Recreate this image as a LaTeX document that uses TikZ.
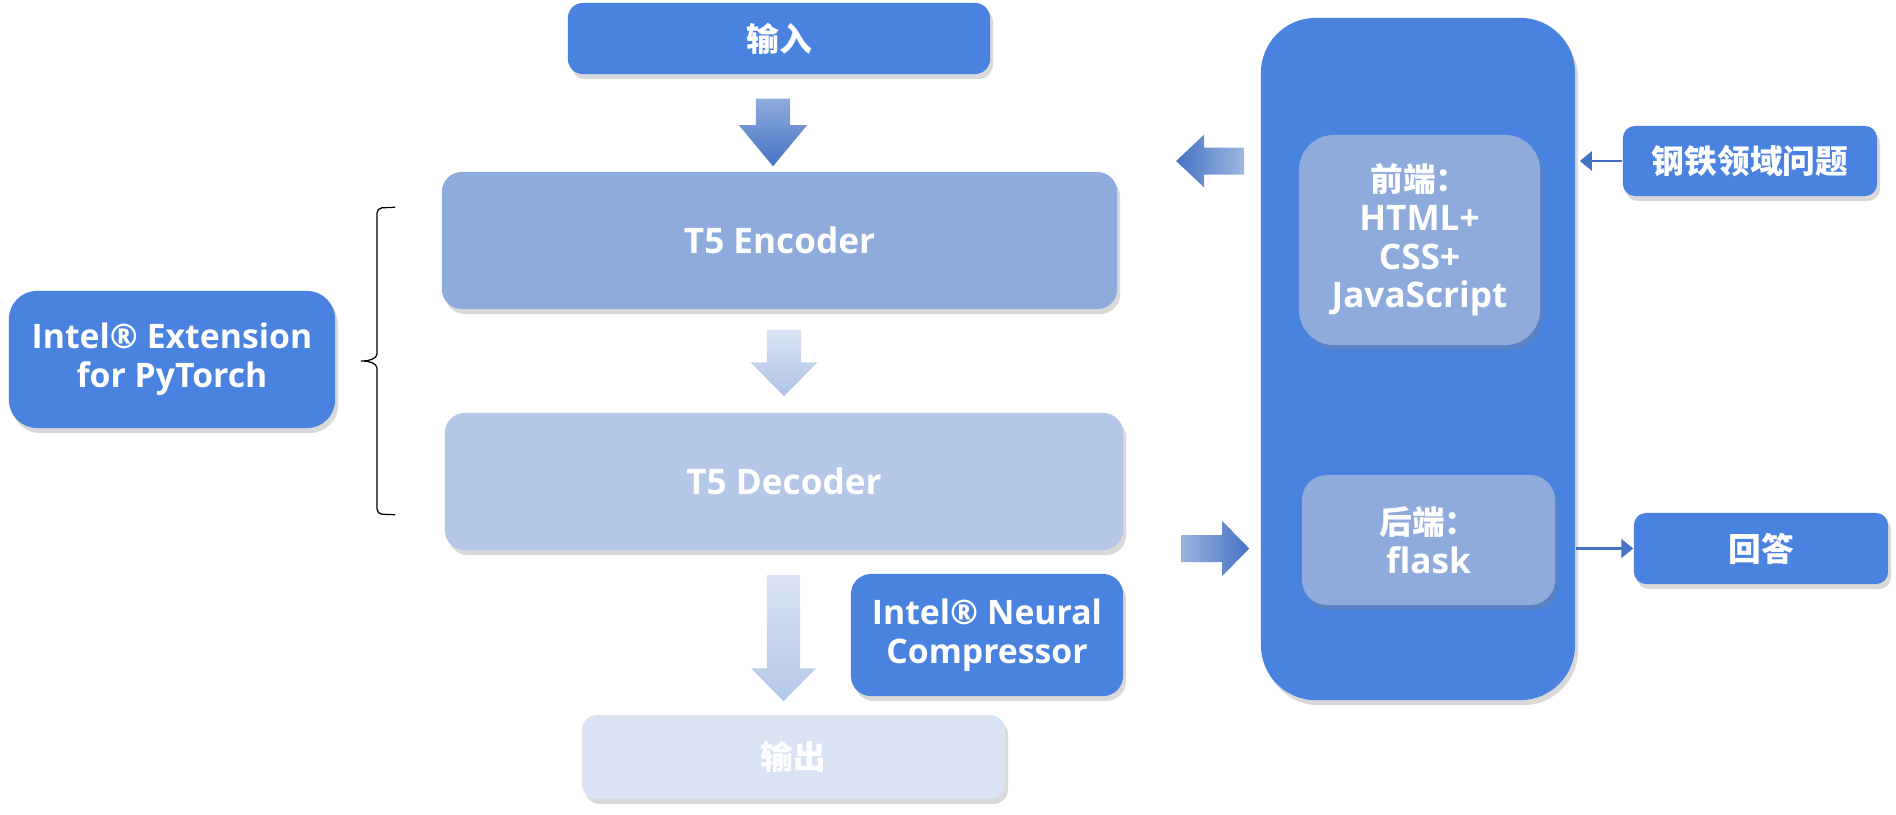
\documentclass[tikz,border=0pt]{standalone}
\usepackage{fontspec}
\setmainfont{Open Sans}
\newfontfamily\cjk{Noto Sans CJK SC}[Scale=0.93]
\usetikzlibrary{calc,shadows,arrows.meta}

\definecolor{mainblue}{RGB}{74,130,224}
\definecolor{midblue}{RGB}{143,171,220}
\definecolor{paleblue}{RGB}{180,199,231}
\definecolor{faintblue}{RGB}{218,227,243}
\definecolor{deepblue}{RGB}{68,114,196}

\tikzset{
  box/.style={rounded corners=0.2cm, text=white, align=center, inner sep=0pt,
    font=\fontsize{10}{11}\selectfont\bfseries,
    drop shadow={shadow xshift=0.03cm, shadow yshift=-0.05cm, opacity=0.3}},
  link/.style={deepblue, line width=0.6pt, -{Triangle[length=3.4pt,width=5.4pt]}},
}

% fat shaded arrow: shading, tail, tip, head length, shaft half width, head half width
\newcommand\blockarrow[6]{%
  \coordinate (ba) at ($(#3)!#4!(#2)$);
  \shade[#1] ($(#2)!#5!90:(#3)$) -- ($(ba)!#5!90:(#3)$) -- ($(ba)!#6!90:(#3)$) -- (#3)
    -- ($(ba)!#6!-90:(#3)$) -- ($(ba)!#5!-90:(#3)$) -- ($(#2)!#5!-90:(#3)$) -- cycle;
}

\begin{document}
\begin{tikzpicture}[x=0.01cm, y=-0.01cm]
  \useasboundingbox (0,0) rectangle (1896,814);

  % model pipeline
  \node[box, fill=mainblue, rounded corners=0.15cm, minimum width=4.22cm, minimum height=0.71cm] (in) at (779,38.5) {\cjk 输入};
  \node[box, fill=midblue, minimum width=6.75cm, minimum height=1.37cm] (enc) at (779.5,240.5) {T5 Encoder};
  \node[box, fill=paleblue, minimum width=6.78cm, minimum height=1.37cm] (dec) at (784,481.5) {T5 Decoder};
  \node[box, fill=faintblue, rounded corners=0.15cm, minimum width=4.23cm, minimum height=0.84cm] (out) at (793.5,757) {\cjk 输出};
  \node[box, fill=mainblue, rounded corners=0.28cm, minimum width=3.26cm, minimum height=1.37cm,
    font=\fontsize{9.6}{11}\selectfont\bfseries] (ipex) at (172,359.5) {Intel® Extension\\for PyTorch};
  \node[box, fill=mainblue, minimum width=2.72cm, minimum height=1.22cm,
    font=\fontsize{9.6}{11}\selectfont\bfseries] (inc) at (987,635) {Intel® Neural\\Compressor};

  \coordinate (a1tail) at ($(in.south)+(-6,24)$);
  \coordinate (a1tip) at ($(enc.north)+(-6.5,-5)$);
  \blockarrow{top color=midblue, bottom color=deepblue}{a1tail}{a1tip}{0.41cm}{0.17cm}{0.34cm}
  \coordinate (a2tail) at ($(enc.south)+(4.5,20)$);
  \coordinate (a2tip) at ($(dec.north)+(0,-16)$);
  \blockarrow{top color=faintblue, bottom color=paleblue!95!deepblue}{a2tail}{a2tip}{0.34cm}{0.17cm}{0.335cm}
  \coordinate (a3tail) at ($(dec.south)+(-0.5,24)$);
  \coordinate (a3tip) at ($(out.north)+(-10,-13)$);
  \blockarrow{top color=faintblue, bottom color=paleblue}{a3tail}{a3tip}{0.33cm}{0.165cm}{0.325cm}

  % brace round the two T5 blocks
  \coordinate (bt) at ($(enc.north west)+(-46,36)$);
  \coordinate (bb) at ($(dec.south west)+(-49,-36)$);
  \coordinate (btip) at (358,361);
  \draw[line width=0.35pt, rounded corners=0.05cm] (bt) -- (377,208) -- (377,349)
    .. controls (377,359) and (368,361) .. (btip)
    .. controls (368,361) and (377,363) .. (377,373) -- (377,514) -- (bb);

  % web server
  \node[box, fill=mainblue, rounded corners=0.55cm, minimum width=3.14cm, minimum height=6.82cm] (server) at (1418,359) {};
  \node[box, fill=midblue, rounded corners=0.35cm, minimum width=2.41cm, minimum height=2.10cm] (front) at (1419.5,240) {{\cjk 前端：}\\HTML+\\CSS+\\JavaScript};
  \node[box, fill=midblue, rounded corners=0.25cm, minimum width=2.53cm, minimum height=1.30cm] (back) at (1428.5,540) {{\cjk 后端：}\\flask};
  \node[box, fill=mainblue, rounded corners=0.12cm, minimum width=2.54cm, minimum height=0.70cm] (q) at (1750,161) {\cjk 钢铁领域问题};
  \node[box, fill=mainblue, rounded corners=0.12cm, minimum width=2.54cm, minimum height=0.71cm] (ans) at (1761,548.5) {\cjk 回答};

  \draw[link] (q.west) -- ($(server.east |- q.west)+(4,0)$);
  \draw[link] (server.east |- ans.west) -- (ans.west);

  \coordinate (a4tail) at ($(server.west |- q.west)+(-16,0)$);
  \coordinate (a4tip) at ($(server.west |- q.west)+(-84,0)$);
  \blockarrow{left color=deepblue, right color=midblue!85!white}{a4tail}{a4tip}{0.28cm}{0.135cm}{0.265cm}
  \coordinate (a5tail) at ($(server.west |- ans.west)+(-79,0)$);
  \coordinate (a5tip) at ($(server.west |- ans.west)+(-11,0)$);
  \blockarrow{left color=midblue!90!white, right color=deepblue}{a5tail}{a5tip}{0.27cm}{0.135cm}{0.275cm}
\end{tikzpicture}
\end{document}
